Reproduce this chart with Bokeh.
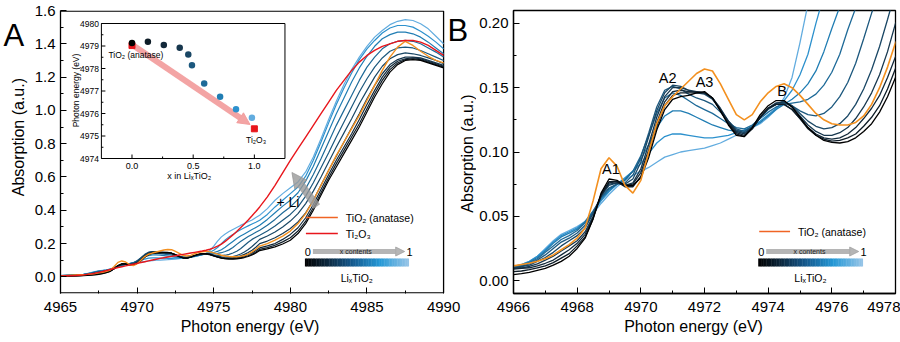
import numpy as np
from bokeh.plotting import figure
from bokeh.layouts import row
from bokeh.models import Range1d, Arrow, NormalHead, FixedTicker, PrintfTickFormatter, LinearAxis
from bokeh.embed import file_html
from bokeh.resources import INLINE
from bokeh.core.properties import value

FONT = "Liberation Sans"

# ---------------------------------------------------------------- data
# energy grid (eV): 4965, then 4966..4978 every 0.25 eV, then 4978.5..4990 every 0.5 eV
energy = np.concatenate([[4965.0], np.arange(4966.0, 4978.0001, 0.25), np.arange(4978.5, 4990.0001, 0.5)])

# Li_x TiO2 spectra, x = 0 (black) ... x = 0.98 (light blue)
lix_000 = [0.002,
           0.0047, 0.0055, 0.0065, 0.008, 0.0095, 0.012, 0.015, 0.019,
           0.025, 0.033, 0.048, 0.068, 0.079, 0.078, 0.074, 0.074,
           0.080, 0.096, 0.117, 0.133, 0.141, 0.143, 0.144, 0.146,
           0.147, 0.142, 0.132, 0.121, 0.113, 0.112, 0.119, 0.129,
           0.136, 0.140, 0.140, 0.135, 0.127, 0.119, 0.113, 0.109,
           0.1075, 0.107, 0.108, 0.111, 0.116, 0.122, 0.131, 0.143,
           0.158,
           0.168, 0.18, 0.197, 0.22, 0.26, 0.32, 0.40, 0.49, 0.58, 0.66, 0.74, 0.82,
           0.90, 0.99, 1.08, 1.16, 1.23, 1.275, 1.30, 1.305, 1.30, 1.285, 1.27, 1.255]
lix_013 = [0.004,
           0.007, 0.0075, 0.0085, 0.010, 0.0115, 0.014, 0.0175, 0.021,
           0.027, 0.034, 0.048, 0.067, 0.077, 0.077, 0.073, 0.073,
           0.081, 0.099, 0.120, 0.136, 0.144, 0.146, 0.146, 0.146,
           0.146, 0.142, 0.132, 0.122, 0.114, 0.112, 0.118, 0.127,
           0.134, 0.137, 0.137, 0.133, 0.126, 0.118, 0.113, 0.110,
           0.1085, 0.109, 0.111, 0.114, 0.120, 0.127, 0.136, 0.149,
           0.165,
           0.176, 0.19, 0.21, 0.235, 0.275, 0.335, 0.415, 0.505, 0.595, 0.68, 0.76, 0.84,
           0.92, 1.01, 1.10, 1.18, 1.245, 1.285, 1.305, 1.31, 1.305, 1.29, 1.275, 1.26]
lix_026 = [0.005,
           0.009, 0.0095, 0.010, 0.0115, 0.0135, 0.016, 0.020, 0.024,
           0.029, 0.036, 0.049, 0.066, 0.076, 0.077, 0.074, 0.075,
           0.084, 0.102, 0.123, 0.139, 0.147, 0.148, 0.147, 0.147,
           0.146, 0.142, 0.133, 0.123, 0.115, 0.113, 0.118, 0.127,
           0.134, 0.137, 0.137, 0.133, 0.126, 0.119, 0.114, 0.111,
           0.110, 0.111, 0.114, 0.119, 0.126, 0.134, 0.144, 0.158,
           0.174,
           0.186, 0.20, 0.225, 0.255, 0.295, 0.355, 0.435, 0.525, 0.615, 0.70, 0.78, 0.86,
           0.945, 1.035, 1.12, 1.20, 1.26, 1.295, 1.31, 1.315, 1.31, 1.295, 1.28, 1.265]
lix_039 = [0.006,
           0.0095, 0.010, 0.011, 0.013, 0.016, 0.019, 0.023, 0.027,
           0.031, 0.038, 0.050, 0.066, 0.075, 0.076, 0.074, 0.076,
           0.087, 0.106, 0.127, 0.143, 0.150, 0.150, 0.148, 0.147,
           0.146, 0.142, 0.134, 0.124, 0.116, 0.114, 0.119, 0.127,
           0.134, 0.138, 0.139, 0.135, 0.128, 0.121, 0.116, 0.113,
           0.113, 0.115, 0.119, 0.126, 0.135, 0.146, 0.160, 0.178,
           0.200,
           0.215, 0.235, 0.26, 0.29, 0.33, 0.385, 0.46, 0.55, 0.64, 0.725, 0.81, 0.895,
           0.98, 1.07, 1.15, 1.22, 1.275, 1.305, 1.32, 1.32, 1.315, 1.30, 1.285, 1.27]
lix_046 = [0.006,
           0.010, 0.011, 0.012, 0.015, 0.018, 0.022, 0.027, 0.031,
           0.035, 0.041, 0.052, 0.066, 0.074, 0.076, 0.075, 0.079,
           0.092, 0.112, 0.132, 0.146, 0.152, 0.151, 0.148, 0.146,
           0.145, 0.141, 0.133, 0.124, 0.117, 0.115, 0.119, 0.127,
           0.134, 0.138, 0.139, 0.136, 0.130, 0.124, 0.120, 0.118,
           0.119, 0.122, 0.128, 0.137, 0.149, 0.164, 0.182, 0.203,
           0.225,
           0.245, 0.27, 0.30, 0.335, 0.38, 0.44, 0.515, 0.60, 0.69, 0.78, 0.865, 0.95,
           1.04, 1.12, 1.20, 1.265, 1.31, 1.335, 1.345, 1.34, 1.33, 1.315, 1.30, 1.28]
lix_049 = [0.007,
           0.010, 0.011, 0.013, 0.016, 0.020, 0.025, 0.030, 0.033,
           0.037, 0.043, 0.053, 0.065, 0.072, 0.075, 0.076, 0.082,
           0.096, 0.115, 0.135, 0.148, 0.151, 0.149, 0.145, 0.142,
           0.140, 0.137, 0.131, 0.124, 0.118, 0.116, 0.120, 0.127,
           0.133, 0.137, 0.138, 0.136, 0.132, 0.129, 0.128, 0.130,
           0.135, 0.143, 0.154, 0.169, 0.188, 0.208, 0.225, 0.238,
           0.250,
           0.275, 0.305, 0.34, 0.375, 0.42, 0.485, 0.565, 0.655, 0.745, 0.84, 0.93, 1.02,
           1.11, 1.19, 1.26, 1.315, 1.355, 1.375, 1.38, 1.375, 1.36, 1.34, 1.32, 1.30]
lix_059 = [0.007,
           0.011, 0.012, 0.014, 0.017, 0.022, 0.027, 0.032, 0.035,
           0.039, 0.045, 0.054, 0.064, 0.071, 0.075, 0.078, 0.085,
           0.097, 0.113, 0.130, 0.142, 0.146, 0.144, 0.140, 0.136,
           0.133, 0.130, 0.126, 0.122, 0.119, 0.118, 0.121, 0.126,
           0.131, 0.135, 0.137, 0.138, 0.139, 0.141, 0.145, 0.152,
           0.162, 0.176, 0.195, 0.212, 0.228, 0.242, 0.255, 0.268,
           0.280,
           0.31, 0.345, 0.385, 0.42, 0.465, 0.53, 0.615, 0.71, 0.81, 0.91, 1.0, 1.09,
           1.18, 1.26, 1.32, 1.37, 1.40, 1.415, 1.42, 1.415, 1.40, 1.375, 1.35, 1.32]
lix_072 = [0.008,
           0.011, 0.012, 0.0145, 0.018, 0.023, 0.029, 0.034, 0.037,
           0.040, 0.046, 0.054, 0.063, 0.070, 0.075, 0.079, 0.085,
           0.094, 0.106, 0.119, 0.128, 0.132, 0.132, 0.130, 0.127,
           0.124, 0.121, 0.119, 0.117, 0.116, 0.117, 0.119, 0.123,
           0.128, 0.133, 0.137, 0.141, 0.146, 0.153, 0.163, 0.178,
           0.196, 0.213, 0.230, 0.245, 0.258, 0.271, 0.284, 0.297,
           0.310,
           0.345, 0.385, 0.425, 0.46, 0.505, 0.575, 0.665, 0.77, 0.875, 0.98, 1.075, 1.17,
           1.255, 1.325, 1.385, 1.43, 1.455, 1.47, 1.47, 1.46, 1.44, 1.41, 1.375, 1.34]
lix_085 = [0.008,
           0.011, 0.0125, 0.015, 0.019, 0.024, 0.030, 0.035, 0.038,
           0.041, 0.046, 0.053, 0.062, 0.069, 0.075, 0.080, 0.085,
           0.091, 0.099, 0.107, 0.112, 0.114, 0.114, 0.113, 0.112,
           0.111, 0.111, 0.112, 0.113, 0.115, 0.117, 0.120, 0.124,
           0.129, 0.134, 0.140, 0.148, 0.160, 0.176, 0.200, 0.222,
           0.240, 0.255, 0.270, 0.283, 0.295, 0.306, 0.317, 0.328,
           0.340,
           0.375, 0.42, 0.46, 0.50, 0.54, 0.605, 0.70, 0.81, 0.925, 1.035, 1.135, 1.225,
           1.305, 1.37, 1.42, 1.465, 1.495, 1.51, 1.51, 1.50, 1.475, 1.445, 1.41, 1.37]
lix_098 = [0.008,
           0.011, 0.0125, 0.015, 0.019, 0.025, 0.031, 0.036, 0.039,
           0.042, 0.046, 0.052, 0.060, 0.067, 0.073, 0.078, 0.082,
           0.085, 0.088, 0.092, 0.096, 0.098, 0.100, 0.101, 0.102,
           0.103, 0.105, 0.107, 0.110, 0.113, 0.116, 0.119, 0.122,
           0.127, 0.133, 0.142, 0.158, 0.185, 0.215, 0.240, 0.258,
           0.272, 0.285, 0.297, 0.309, 0.320, 0.331, 0.342, 0.356,
           0.370,
           0.41, 0.46, 0.50, 0.535, 0.57, 0.63, 0.72, 0.83, 0.945, 1.055, 1.155, 1.245,
           1.32, 1.385, 1.44, 1.48, 1.515, 1.535, 1.545, 1.54, 1.52, 1.49, 1.445, 1.40]
tio2_anatase = [0.006,
                0.0115, 0.0125, 0.0135, 0.015, 0.017, 0.020, 0.024, 0.028,
                0.033, 0.041, 0.062, 0.087, 0.0955, 0.089, 0.074, 0.068,
                0.078, 0.100, 0.122, 0.136, 0.143, 0.149, 0.155, 0.161,
                0.1645, 0.163, 0.153, 0.141, 0.129, 0.125, 0.129, 0.139,
                0.146, 0.151, 0.153, 0.150, 0.144, 0.137, 0.130, 0.125,
                0.122, 0.121, 0.121, 0.123, 0.128, 0.137, 0.150, 0.166,
                0.185,
                0.20, 0.22, 0.245, 0.275, 0.32, 0.38, 0.46, 0.55, 0.64, 0.73, 0.81, 0.89,
                0.97, 1.06, 1.15, 1.24, 1.32, 1.38, 1.415, 1.39, 1.355, 1.325, 1.30, 1.285]
ti2o3 = [0.005,
         0.008, 0.010, 0.012, 0.015, 0.018, 0.022, 0.027, 0.032,
         0.038, 0.044, 0.050, 0.056, 0.061, 0.066, 0.071, 0.076,
         0.081, 0.086, 0.091, 0.096, 0.101, 0.106, 0.111, 0.115,
         0.119, 0.123, 0.127, 0.131, 0.135, 0.139, 0.143, 0.147,
         0.151, 0.155, 0.160, 0.166, 0.174, 0.184, 0.197, 0.213,
         0.232, 0.252, 0.273, 0.295, 0.318, 0.342, 0.367, 0.393,
         0.420,
         0.48, 0.55, 0.625, 0.70, 0.77, 0.84, 0.91, 0.98, 1.05, 1.12, 1.18, 1.24,
         1.29, 1.33, 1.36, 1.385, 1.40, 1.415, 1.42, 1.42, 1.41, 1.39, 1.36, 1.33]

# inset: edge energy versus Li content
li_contents = [0.0, 0.13, 0.26, 0.39, 0.46, 0.49, 0.59, 0.72, 0.85, 0.98]
edge_energy = [4979.13, 4979.19, 4979.05, 4978.92, 4978.62, 4978.15, 4977.33, 4976.74, 4976.19, 4975.81]
ref_contents = [0.0, 1.0]
ref_edge = [4979.02, 4975.32]

# ticks and texts
a_xticks = [4965, 4970, 4975, 4980, 4985, 4990]
a_xminor = [4967.5, 4972.5, 4977.5, 4982.5, 4987.5]
a_yticks = [0.0, 0.2, 0.4, 0.6, 0.8, 1.0, 1.2, 1.4, 1.6]
a_yminor = [0.1, 0.3, 0.5, 0.7, 0.9, 1.1, 1.3, 1.5]
b_xticks = [4966, 4968, 4970, 4972, 4974, 4976, 4978]
b_xminor = [4967, 4969, 4971, 4973, 4975, 4977]
b_yticks = [0.0, 0.05, 0.10, 0.15, 0.20]
b_yminor = [0.025, 0.075, 0.125, 0.175]
inset_xticks = [0.0, 0.5, 1.0]
inset_xlabels = ["0.0", "0.5", "1.0"]
inset_xminor = [0.25, 0.75]
inset_yticks = [4974, 4975, 4976, 4977, 4978, 4979, 4980]
inset_ylabels = ["4974", "4975", "4976", "4977", "4978", "4979", "4980"]
inset_yminor = [4974.5, 4975.5, 4976.5, 4977.5, 4978.5, 4979.5]
peak_names = ["A1", "A2", "A3", "B"]
x_title = "Photon energy (eV)"
y_title = "Absorption (a.u.)"

li_series = [lix_000, lix_013, lix_026, lix_039, lix_046, lix_049, lix_059, lix_072, lix_085, lix_098]
for s in li_series + [tio2_anatase, ti2o3]:
    assert len(s) == len(energy), len(s)

# ---------------------------------------------------------------- styles / layout
line_colors = ["#000000", "#0e1c27", "#13293a", "#17374e", "#1a4765",
               "#1c587e", "#1e6a98", "#207db3", "#2d91cd", "#62acdf"]
ORANGE = "#f3901f"
ORANGE_KEY = "#f06424"
RED = "#e8161c"
PINK = "#f29a9a"
GRAY = "#a3a3a3"

H = 342
FT, FB = 10, 293            # frame top / bottom (page px)
L_W = 31                    # narrow strip at far left (panel letter A, y title)
A_L, A_R = 59, 443          # panel A plotting box (page px)
A_FR = 476                  # right end of panel A canvas (frame extended for letter B etc.)
B_L, B_R = 511, 895         # panel B plotting box (page px)
A_W = A_FR - L_W
B_W = 900 - A_FR
A_SCALE = 25.0 / (A_R - A_L)
A_XEND = 4965 + (A_FR - A_L) * A_SCALE
PXY = 1.7 / (FB - FT)       # panel A data units per pixel (y)


def a_pt(px, py):
    return 4965 + (px - A_L) * A_SCALE, 1.6 - (py - FT) * PXY


def b_pt(px, py):
    return 4966 + (px - B_L) * 12.0 / (B_R - B_L), 0.21 - (py - FT) * 0.22 / (FB - FT)


def l_pt(px, py):
    return px, H - py


IN_L, IN_R, IN_T, IN_B = 100, 284, 23, 158
SX = (IN_R - IN_L) / 1.5
SY = (IN_B - IN_T) / 6.0
ix_start = -0.25 - (IN_L - A_L) / SX
ix_end = ix_start + (A_FR - A_L) / SX
iy_end = 4980 + (IN_T - FT) / SY
iy_start = iy_end - (FB - FT) / SY


def i_pt(px, py):
    return -0.25 + (px - IN_L) / SX, 4980 - (py - IN_T) / SY


def style_axis(ax, size="15px"):
    ax.axis_line_width = 1.3
    ax.axis_line_color = "black"
    ax.major_tick_in = 6
    ax.major_tick_out = 0
    ax.minor_tick_in = 3
    ax.minor_tick_out = 0
    ax.major_tick_line_color = "black"
    ax.minor_tick_line_color = "black"
    ax.major_label_text_font = FONT
    ax.major_label_text_font_size = size
    ax.major_label_text_color = "black"


def style(p, xt, xm, yt, ym, ystand, yfmt, frame_w, title_px):
    p.xgrid.visible = False
    p.ygrid.visible = False
    p.background_fill_color = "white"
    p.border_fill_color = "white"
    p.xaxis.ticker = FixedTicker(ticks=xt, minor_ticks=xm)
    p.yaxis.ticker = FixedTicker(ticks=yt, minor_ticks=ym)
    p.yaxis.formatter = PrintfTickFormatter(format=yfmt)
    style_axis(p.xaxis[0])
    style_axis(p.yaxis[0])
    p.xaxis.major_label_standoff = 8
    p.yaxis.major_label_standoff = ystand
    # x-axis title, placed under the tick labels at its position in the original
    p.extra_x_ranges["ttl"] = Range1d(0, frame_w)
    t = LinearAxis(x_range_name="ttl", ticker=FixedTicker(ticks=[title_px], minor_ticks=[]),
                   major_label_overrides={title_px: x_title})
    style_axis(t, "16px")
    t.axis_line_color = None
    t.major_tick_line_color = None
    t.minor_tick_line_color = None
    t.major_label_standoff = 3
    p.add_layout(t, "below")


def text(p, pt, px, py, s, size, align="left", base="middle", color="black", angle=0.0, **kw):
    x, y = pt(px, py)
    p.text(x=[x], y=[y], text=[s], text_font=value(FONT), text_font_size=size,
           text_align=align, text_baseline=base, text_color=color, angle=angle, level="overlay", **kw)


grad_stops = [(0.0, (0, 0, 0)), (0.22, (12, 40, 62)), (0.45, (20, 88, 140)),
              (0.72, (36, 152, 214)), (1.0, (152, 197, 232))]


def grad_color(t):
    for (t0, c0), (t1, c1) in zip(grad_stops[:-1], grad_stops[1:]):
        if t <= t1:
            f = (t - t0) / (t1 - t0)
            c = [int(round(a + (b - a) * f)) for a, b in zip(c0, c1)]
            return "#%02x%02x%02x" % tuple(c)
    return "#%02x%02x%02x" % grad_stops[-1][1]


def content_key(p, pt, x0, x1, ytxt, ybar0, ybar1, ysub):
    # "0 ---x contents---> 1" arrow, gradient bar, Li_xTiO2 caption
    xm = (x0 + x1) / 2
    text(p, pt, x0 + 3, ytxt, "0", "11px", align="center")
    text(p, pt, x1 + 1, ytxt, "1", "11px", align="center")
    sx0, sy0 = pt(x0 + 8, ytxt)
    sx1, _ = pt(x1 - 4, ytxt)
    p.add_layout(Arrow(end=NormalHead(size=9, fill_color=GRAY, line_color=GRAY, fill_alpha=0.8, line_alpha=0.8),
                       x_start=sx0, y_start=sy0, x_end=sx1, y_end=sy0,
                       line_color=GRAY, line_width=5, line_alpha=0.8))
    text(p, pt, xm - 1, ytxt, "x contents", "7px", align="center", color="#222222")
    n = 64
    lefts, rights, cols = [], [], []
    for i in range(n):
        l, _ = pt(x0 + (x1 - x0) * i / n, ybar1)
        r, _ = pt(x0 + (x1 - x0) * (i + 1) / n + 0.4, ybar0)
        lefts.append(l)
        rights.append(r)
        cols.append(grad_color((i + 0.5) / n))
    _, b = pt(x0, ybar1)
    _, t = pt(x0, ybar0)
    p.quad(left=lefts, right=rights, bottom=[b] * n, top=[t] * n, fill_color=cols, line_color=None)
    text(p, pt, xm, ysub, "LiₓTiO₂", "10.5px", align="center")


# ---------------------------------------------------------------- left strip: letter A and y title
pL = figure(width=L_W, height=H, x_range=Range1d(0, L_W), y_range=Range1d(0, H), min_border=0,
            x_axis_location=None, y_axis_location=None, toolbar_location=None, output_backend="svg")
pL.grid.visible = False
pL.outline_line_color = None
pL.border_fill_color = "white"
text(pL, l_pt, 3, 30, "A", "31px", base="alphabetic")
text(pL, l_pt, 18, 153, y_title, "16px", align="center", angle=np.pi / 2)

# ---------------------------------------------------------------- panel A
pA = figure(width=A_W, height=H, x_range=Range1d(4965, A_XEND), y_range=Range1d(-0.1, 1.6000001),
            min_border_left=A_L - L_W, min_border_right=0, min_border_top=FT, min_border_bottom=H - FB,
            toolbar_location=None, output_backend="svg")
pA.extra_x_ranges = {"ix": Range1d(ix_start, ix_end)}
pA.extra_y_ranges = {"iy": Range1d(iy_start, iy_end)}
style(pA, a_xticks, a_xminor, a_yticks, a_yminor, 5, "%.1f", A_FR - A_L, 249 - A_L)
pA.outline_line_color = None
pA.xaxis[0].axis_line_color = None
# plotting box of panel A (top, right, bottom edges)
e = 0.65 * PXY
pA.line([4965, 4990, 4990, 4965], [1.6 - e, 1.6 - e, -0.1 + e, -0.1 + e], line_color="black", line_width=1.3)

for k in range(9, -1, -1):
    pA.line(energy, li_series[k], line_color=line_colors[k], line_width=1.2)
pA.line(energy, tio2_anatase, line_color=ORANGE, line_width=1.4)
pA.line(energy, ti2o3, line_color=RED, line_width=1.4)

# "+ Li" arrow
tx, ty = a_pt(316, 206)
hx, hy = a_pt(291, 172)
pA.add_layout(Arrow(end=NormalHead(size=15, fill_color="#999999", line_color="#999999", fill_alpha=0.8, line_alpha=0.8),
                    x_start=tx, y_start=ty, x_end=hx, y_end=hy,
                    line_color="#999999", line_width=8, line_alpha=0.8))
text(pA, a_pt, 287, 201, "+ Li", "14px", align="center")

# key A
for (py, col, lab) in [(217, ORANGE_KEY, "TiO₂ (anatase)"), (233, RED, "Ti₂O₃")]:
    x0, y0 = a_pt(305, py)
    x1, _ = a_pt(337, py)
    pA.line([x0, x1], [y0, y0], line_color=col, line_width=1.6)
    text(pA, a_pt, 345, py, lab, "10.5px")
content_key(pA, a_pt, 304, 408, 251, 258, 266, 277)

# inset
irng = dict(x_range_name="ix", y_range_name="iy")
pA.quad(left=[-0.25], right=[1.25], bottom=[4974], top=[4980], fill_color="white",
        line_color="black", line_width=1, **irng)
tl = 4 / SX
pA.segment(x0=[-0.25] * len(inset_yticks), y0=inset_yticks, x1=[-0.25 + tl] * len(inset_yticks),
           y1=inset_yticks, line_color="black", line_width=1, **irng)
pA.segment(x0=[-0.25] * len(inset_yminor), y0=inset_yminor, x1=[-0.25 + tl / 2] * len(inset_yminor),
           y1=inset_yminor, line_color="black", line_width=1, **irng)
tlv = 4 / SY
pA.segment(x0=inset_xticks, y0=[4974] * 3, x1=inset_xticks, y1=[4974 + tlv] * 3,
           line_color="black", line_width=1, **irng)
pA.segment(x0=inset_xminor, y0=[4974] * 2, x1=inset_xminor, y1=[4974 + tlv / 2] * 2,
           line_color="black", line_width=1, **irng)
pA.text(x=[-0.25 - 2.5 / SX] * len(inset_yticks), y=inset_yticks, text=inset_ylabels,
        text_font=value(FONT), text_font_size="8.5px", text_align="right", text_baseline="middle", **irng)
pA.text(x=inset_xticks, y=[4974 - 7 / SY] * 3, text=inset_xlabels,
        text_font=value(FONT), text_font_size="9px", text_align="center", text_baseline="middle", **irng)
text(pA, i_pt, 75, 90, "Photon energy (eV)", "8.5px", align="center", angle=np.pi / 2, **irng)
text(pA, i_pt, 188, 175, "x in LiₓTiO₂", "9px", align="center", **irng)
text(pA, i_pt, 107, 54, "TiO₂ (anatase)", "8.5px", **irng)
text(pA, i_pt, 245, 139, "Ti₂O₃", "8.5px", **irng)

ax0, ay0 = i_pt(132, 45)
ax1, ay1 = i_pt(249, 124)
pA.add_layout(Arrow(end=NormalHead(size=12, fill_color=PINK, line_color=PINK, fill_alpha=0.9, line_alpha=0.9),
                    x_start=ax0, y_start=ay0, x_end=ax1, y_end=ay1,
                    line_color=PINK, line_width=6, line_alpha=0.9, **irng))
pA.scatter(ref_contents, ref_edge, marker="square", size=6, color=RED, level="overlay", **irng)
pA.scatter(li_contents, edge_energy, marker="circle", size=6.5, color=line_colors,
           line_color=None, level="overlay", **irng)

# letter B and the y title of panel B (they sit in the gap between the two panels)
text(pA, a_pt, 447, 30, "B", "31px", base="alphabetic")
text(pA, a_pt, 467, 153, y_title, "16px", align="center", angle=np.pi / 2)

# ---------------------------------------------------------------- panel B
pB = figure(width=B_W, height=H, x_range=Range1d(4966, 4978), y_range=Range1d(-0.01, 0.21),
            min_border_left=B_L - A_FR, min_border_right=900 - B_R, min_border_top=FT,
            min_border_bottom=H - FB, toolbar_location=None, output_backend="svg")
style(pB, b_xticks, b_xminor, b_yticks, b_yminor, 5, "%.2f", B_R - B_L, 692 - B_L)
pB.outline_line_color = "black"
pB.outline_line_width = 1.3

for k in range(9, -1, -1):
    pB.line(energy, li_series[k], line_color=line_colors[k], line_width=1.3)
pB.line(energy, tio2_anatase, line_color=ORANGE, line_width=1.6)

for name, (px, py) in zip(peak_names, [(609, 168), (666, 77), (703, 81), (781, 90)]):
    text(pB, b_pt, px, py, name, "14.5px", align="center")

x0, y0 = b_pt(758, 231)
x1, _ = b_pt(789, 231)
pB.line([x0, x1], [y0, y0], line_color=ORANGE_KEY, line_width=1.6)
text(pB, b_pt, 797, 231, "TiO₂ (anatase)", "10.5px")
content_key(pB, b_pt, 757, 862, 251, 258, 266, 277)

layout = row(pL, pA, pB)
open("out.html", "w").write(file_html(layout, INLINE))
